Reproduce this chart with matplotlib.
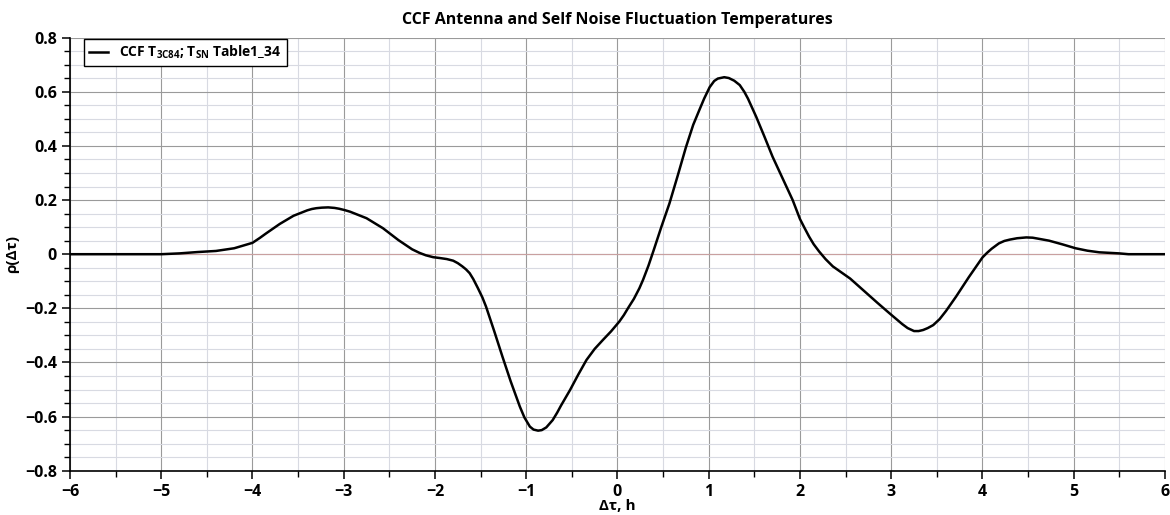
import numpy as np
import matplotlib
matplotlib.use("Agg")
import matplotlib.pyplot as plt
from matplotlib.ticker import MultipleLocator

plt.rcParams['font.family'] = ['Open Sans', 'DejaVu Sans']
plt.rcParams['font.weight'] = 'bold'
plt.rcParams['mathtext.fontset'] = 'custom'
plt.rcParams['mathtext.rm'] = 'Open Sans:bold'
plt.rcParams['axes.unicode_minus'] = True

lag = [-6.0, -5.0, -4.8, -4.6, -4.4, -4.2, -4.0, -3.92, -3.85, -3.7, -3.55,
       -3.4, -3.35, -3.3, -3.24, -3.17, -3.1, -3.05, -2.99, -2.93, -2.75, -2.57,
       -2.4, -2.25, -2.17, -2.1, -2.02, -1.95, -1.87, -1.8, -1.75, -1.7, -1.66,
       -1.62, -1.58, -1.53, -1.48, -1.44, -1.35, -1.26, -1.17, -1.07, -1.02,
       -0.96, -0.92, -0.87, -0.83, -0.78, -0.71, -0.66, -0.62, -0.52, -0.43,
       -0.34, -0.25, -0.16, -0.07, 0.02, 0.07, 0.12, 0.18, 0.24, 0.28, 0.34, 0.4,
       0.48, 0.57, 0.66, 0.75, 0.83, 0.9, 0.95, 1.01, 1.06, 1.1, 1.17, 1.22,
       1.28, 1.34, 1.39, 1.43, 1.52, 1.61, 1.7, 1.81, 1.92, 2.0, 2.05, 2.1, 2.15,
       2.21, 2.28, 2.36, 2.55, 2.69, 2.85, 2.98, 3.12, 3.18, 3.25, 3.3, 3.35,
       3.4, 3.46, 3.53, 3.6, 3.71, 3.85, 4.0, 4.05, 4.1, 4.18, 4.24, 4.3, 4.38,
       4.48, 4.55, 4.6, 4.73, 4.88, 5.02, 5.15, 5.28, 5.5, 5.6, 6.0]
rho = [0.0, 0.0, 0.003, 0.008, 0.012, 0.022, 0.042, 0.06, 0.077, 0.112, 0.142,
       0.162, 0.167, 0.170, 0.172, 0.173, 0.171, 0.168, 0.163, 0.157, 0.133,
       0.096, 0.052, 0.018, 0.005, -0.004, -0.011, -0.014, -0.018, -0.024,
       -0.033, -0.045, -0.056, -0.07, -0.092, -0.125, -0.16, -0.194, -0.285,
       -0.379, -0.47, -0.563, -0.603, -0.637, -0.648, -0.652, -0.65, -0.64,
       -0.613, -0.585, -0.56, -0.502, -0.445, -0.391, -0.35, -0.317, -0.285,
       -0.249, -0.225, -0.197, -0.165, -0.126, -0.095, -0.042, 0.018, 0.1, 0.188,
       0.29, 0.395, 0.478, 0.535, 0.575, 0.617, 0.64, 0.649, 0.654, 0.651, 0.641,
       0.625, 0.6, 0.575, 0.508, 0.435, 0.36, 0.28, 0.2, 0.13, 0.097, 0.065,
       0.037, 0.01, -0.018, -0.045, -0.09, -0.132, -0.18, -0.218, -0.258,
       -0.273, -0.284, -0.284, -0.28, -0.273, -0.262, -0.24, -0.21, -0.157,
       -0.085, -0.012, 0.005, 0.02, 0.04, 0.049, 0.054, 0.059, 0.062, 0.061,
       0.058, 0.05, 0.036, 0.022, 0.013, 0.007, 0.003, 0.0, 0.0]

label = r'CCF T$_{\mathrm{3C84}}$; T$_{\mathrm{SN}}$ Table1_34'

fig = plt.figure(figsize=(11.7, 5.15), dpi=100)
ax = fig.add_axes([0.0598, 0.086, 0.9359, 0.8408])

ax.plot(lag, rho, color='black', lw=1.8, label=label, zorder=3,
        solid_joinstyle='round')

ax.set_xlim(-6, 6)
ax.set_ylim(-0.8, 0.8)
ax.xaxis.set_major_locator(MultipleLocator(1))
ax.xaxis.set_minor_locator(MultipleLocator(0.5))
ax.yaxis.set_major_locator(MultipleLocator(0.2))
ax.yaxis.set_minor_locator(MultipleLocator(0.05))
ax.yaxis.set_major_formatter(lambda v, p: '0' if abs(v) < 1e-9 else f'{v:.1f}'.replace('-', '\u2212'))

ax.grid(which='major', color='#9a9a9a', lw=0.8)
ax.grid(which='minor', color='#d8dae2', lw=0.8)
ax.axhline(0, color='#c9a0a0', lw=0.8, zorder=2)
ax.set_axisbelow(True)

for s in ('top', 'right'):
    ax.spines[s].set_visible(False)
for s in ('left', 'bottom'):
    ax.spines[s].set_linewidth(1.2)
ax.tick_params(which='major', length=6, width=1.1, labelsize=11.5)
ax.tick_params(which='minor', length=4, width=1.0)

ax.set_xlabel('\u0394\u03c4, h', fontsize=11, fontweight='bold', labelpad=-1)
ax.set_ylabel('\u03c1(\u0394\u03c4)', fontsize=11, fontweight='bold', labelpad=4)
ax.set_title('CCF Antenna and Self Noise Fluctuation Temperatures',
             fontsize=11.5, fontweight='bold', pad=10)

leg = ax.legend(loc='upper left', bbox_to_anchor=(0.0128, 0.997), fontsize=10,
                fancybox=False, framealpha=1, edgecolor='black',
                handlelength=1.4, borderpad=0.35, borderaxespad=0)
leg.get_frame().set_linewidth(1.0)

fig.savefig('out.png', dpi=100)
